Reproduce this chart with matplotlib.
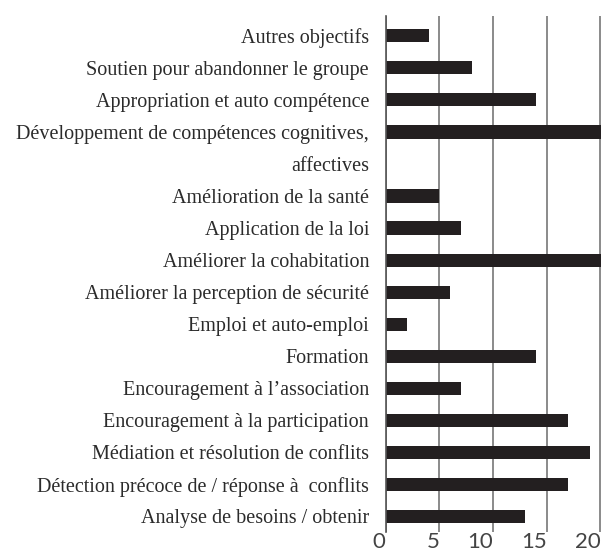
import matplotlib
matplotlib.use("Agg")
import matplotlib.pyplot as plt
import numpy as np

# categories, top to bottom
categories = [
    "Autres objectifs",
    "Soutien pour abandonner le groupe",
    "Appropriation et auto compétence",
    "Développement de compétences cognitives,",
    "Amélioration de la santé",
    "Application de la loi",
    "Améliorer la cohabitation",
    "Améliorer la perception de sécurité",
    "Emploi et auto-emploi",
    "Formation",
    "Encouragement à l’association",
    "Encouragement à la participation",
    "Médiation et résolution de conflits",
    "Détection précoce de / réponse à  conflits",
    "Analyse de besoins / obtenir",
]
values = [4, 8, 14, 20.3, 5, 7, 20.3, 6, 2, 14, 7, 17, 19, 17, 13]
# second line of the long label sits in its own slot
wrap_after = "Développement de compétences cognitives,"
wrap_text = "affectives"
xticks = [0, 5, 10, 15, 20]

# slot positions (one extra slot for the wrapped label)
pos = []
tick_pos = []
tick_lab = []
slot = 0
for c in categories:
    pos.append(slot)
    tick_pos.append(slot)
    tick_lab.append(c)
    slot += 1
    if c == wrap_after:
        tick_pos.append(slot)
        tick_lab.append(wrap_text)
        slot += 1

fig = plt.figure(figsize=(6.01, 5.55), dpi=100)
ax = fig.add_axes([385.7 / 601, 1 - 532 / 555, (600.5 - 385.7) / 601, (532 - 16) / 555])

ax.barh(pos, values, height=0.41, color="#231f20", zorder=3)

ax.set_xlim(0, 20.02)
ax.set_ylim(15.49, -0.62)

ax.set_xticks(xticks)
ax.set_xticklabels([str(t) for t in xticks], fontsize=16, family="Lato",
                   color="#444444", ha="right")
ax.set_yticks(tick_pos)
ax.set_yticklabels(tick_lab, fontsize=14.5, family="Liberation Serif", color="#2b2b2b")
ax.tick_params(axis="y", length=0, pad=12)
ax.tick_params(axis="x", length=0, pad=0)

ax.grid(axis="x", color="#777777", linewidth=1.2, zorder=0)
for s in ["top", "right", "bottom"]:
    ax.spines[s].set_visible(False)
ax.spines["left"].set_color("#555555")
ax.spines["left"].set_linewidth(1.2)
ax.spines["left"].set_zorder(4)

fig.savefig("out.png", dpi=100)
